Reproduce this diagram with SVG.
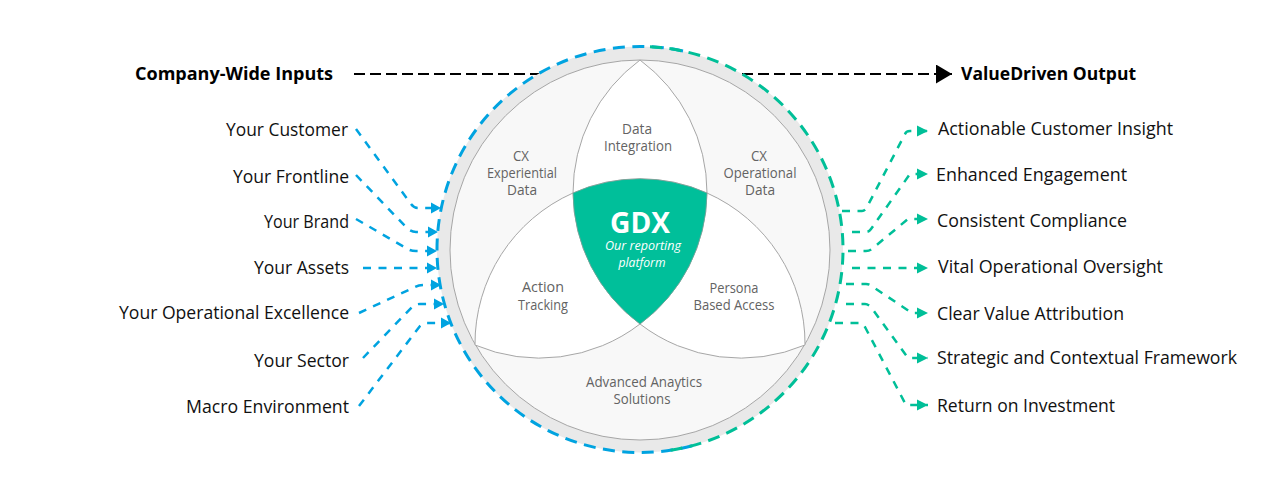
<svg xmlns="http://www.w3.org/2000/svg" width="1280" height="500" viewBox="0 0 1280 500">
<style>
text{font-family:"Open Sans","Noto Sans","Liberation Sans",sans-serif}
.lb{font-size:18px;fill:#111}
.hd{font-size:18px;font-weight:700;fill:#000}
.tg{font-size:14px;fill:#636363;text-anchor:middle}
.pt{fill:#fff;stroke:#a6a6a6;stroke-width:1}
.b{fill:none;stroke:#00a3e0;stroke-width:2.5;stroke-dasharray:8 7.5}
.g{fill:none;stroke:#00bf98;stroke-width:2.5;stroke-dasharray:8 7.5}
.bc{fill:none;stroke:#00a3e0;stroke-width:3;stroke-dasharray:12 7.5}
.gc{fill:none;stroke:#00bf98;stroke-width:3;stroke-dasharray:12 7.5}
.k{fill:none;stroke:#000;stroke-width:2.2;stroke-dasharray:11 5}
</style>
<defs>
<marker id="ab" markerUnits="userSpaceOnUse" markerWidth="11" markerHeight="12" refX="10" refY="6" orient="auto"><path d="M0,0.5L10,6L0,11.5Z" fill="#00a3e0"/></marker>
<marker id="ag" markerUnits="userSpaceOnUse" markerWidth="12" markerHeight="12" refX="11" refY="6" orient="auto"><path d="M0,0.5L11,6L0,11.5Z" fill="#00bf98"/></marker>
<marker id="ak" markerUnits="userSpaceOnUse" markerWidth="17" markerHeight="19" refX="16" refY="9.5" orient="auto"><path d="M0,0L16,9.5L0,19Z" fill="#000"/></marker>
</defs>
<g id="flow-lines">
<path class="k" d="M354,74H540"/>
<path class="k" d="M742,74H952" marker-end="url(#ak)"/>
</g>
<g id="ring"><circle cx="640" cy="249.5" r="203" fill="#e9e9e9"/><circle cx="640" cy="250" r="190" fill="#f8f8f8" stroke="#a6a6a6" stroke-width="1"/></g>
<g id="n-data-integration"><path class="pt" d="M640,60A165,165 0 0 1 707,193A165,165 0 0 0 573,193A165,165 0 0 1 640,60Z"/><text class="tg" x="637" y="134" textLength="30" lengthAdjust="spacingAndGlyphs">Data</text><text class="tg" x="638" y="151" textLength="68" lengthAdjust="spacingAndGlyphs">Integration</text></g>
<g id="n-cx-experiential"><text class="tg" x="521" y="161" textLength="16" lengthAdjust="spacingAndGlyphs">CX</text><text class="tg" x="522" y="178" textLength="70" lengthAdjust="spacingAndGlyphs">Experiential</text><text class="tg" x="522" y="195" textLength="30" lengthAdjust="spacingAndGlyphs">Data</text></g>
<g id="n-cx-operational"><text class="tg" x="759" y="161" textLength="16" lengthAdjust="spacingAndGlyphs">CX</text><text class="tg" x="760" y="178" textLength="73" lengthAdjust="spacingAndGlyphs">Operational</text><text class="tg" x="760" y="195" textLength="30" lengthAdjust="spacingAndGlyphs">Data</text></g>
<g id="n-action"><path class="pt" d="M573,193A165,165 0 0 0 640,324A165,165 0 0 1 475,345A165,165 0 0 1 573,193Z"/><text class="tg" x="543" y="292" textLength="42" lengthAdjust="spacingAndGlyphs">Action</text><text class="tg" x="543" y="310" textLength="50" lengthAdjust="spacingAndGlyphs">Tracking</text></g>
<g id="n-persona"><path class="pt" d="M707,193A165,165 0 0 1 805,345A165,165 0 0 1 640,324A165,165 0 0 0 707,193Z"/><text class="tg" x="734" y="293" textLength="49" lengthAdjust="spacingAndGlyphs">Persona</text><text class="tg" x="734" y="310" textLength="81" lengthAdjust="spacingAndGlyphs">Based Access</text></g>
<g id="n-analytics"><text class="tg" x="644" y="387" textLength="116" lengthAdjust="spacingAndGlyphs">Advanced Anaytics</text><text class="tg" x="642" y="404" textLength="57" lengthAdjust="spacingAndGlyphs">Solutions</text></g>
<g id="n-gdx"><path d="M573,193A165,165 0 0 1 707,193A165,165 0 0 1 640,324A165,165 0 0 1 573,193Z" fill="#00bf9a" stroke="#8a9f99" stroke-width=".6"/>
<text x="640" y="233" text-anchor="middle" font-size="28" font-weight="700" fill="#fff" textLength="60" lengthAdjust="spacingAndGlyphs">GDX</text>
<text x="643" y="250" text-anchor="middle" font-size="13" font-style="italic" fill="#fff" textLength="76" lengthAdjust="spacingAndGlyphs">Our reporting</text>
<text x="642" y="267" text-anchor="middle" font-size="13" font-style="italic" fill="#fff" textLength="47" lengthAdjust="spacingAndGlyphs">platform</text></g>
<g id="connectors">
<path class="bc" d="M683,51A203,203 0 0 0 640,46.5A203,203 0 0 0 640,452.5A203,203 0 0 0 695,445"/>
<path class="gc" d="M650,46.7A203,203 0 0 1 843,249.5A203,203 0 0 1 668,450.6"/>
<path class="b" marker-end="url(#ab)" d="M356,129L411,204Q414,208 418,208H441"/>
<path class="b" marker-end="url(#ab)" d="M356,175L405,226Q410,232 416,232H438"/>
<path class="b" marker-end="url(#ab)" d="M356,219L406,248Q410,251 416,251H437"/>
<path class="b" marker-end="url(#ab)" d="M363,268H437"/>
<path class="b" marker-end="url(#ab)" d="M359,313L415,287Q419,285 424,285H441"/>
<path class="b" marker-end="url(#ab)" d="M363,358L412,307Q415,304 420,304H444"/>
<path class="b" marker-end="url(#ab)" d="M359,406L420,326Q423,323 427,323H451"/>
<path class="g" marker-end="url(#ag)" d="M842,211H862Q865,211 867,207L905,134Q906,131 910,131H928"/>
<path class="g" marker-end="url(#ag)" d="M852,232H866Q869,232 871,229L910,174H928"/>
<path class="g" marker-end="url(#ag)" d="M848,251H866Q870,251 873,248L908,219H928"/>
<path class="g" marker-end="url(#ag)" d="M852,268H928"/>
<path class="g" marker-end="url(#ag)" d="M846,284H866Q870,284 873,287L912,313H928"/>
<path class="g" marker-end="url(#ag)" d="M846,304H865Q868,304 871,307L908,358H928"/>
<path class="g" marker-end="url(#ag)" d="M835,323H860Q863,323 865,327L906,405H928"/>
</g>
<g id="n-heading-in"><text class="hd" x="135" y="80" textLength="198" lengthAdjust="spacingAndGlyphs">Company-Wide Inputs</text></g>
<g id="n-heading-out"><text class="hd" x="961" y="80" textLength="175" lengthAdjust="spacingAndGlyphs">ValueDriven Output</text></g>
<g id="n-inputs" text-anchor="end">
<text class="lb" x="348" y="136" textLength="122" lengthAdjust="spacingAndGlyphs">Your Customer</text>
<text class="lb" x="349" y="183" textLength="116" lengthAdjust="spacingAndGlyphs">Your Frontline</text>
<text class="lb" x="349" y="228" textLength="85" lengthAdjust="spacingAndGlyphs">Your Brand</text>
<text class="lb" x="349" y="274" textLength="95" lengthAdjust="spacingAndGlyphs">Your Assets</text>
<text class="lb" x="349" y="319" textLength="230" lengthAdjust="spacingAndGlyphs">Your Operational Excellence</text>
<text class="lb" x="349" y="367" textLength="95" lengthAdjust="spacingAndGlyphs">Your Sector</text>
<text class="lb" x="349" y="413" textLength="163" lengthAdjust="spacingAndGlyphs">Macro Environment</text>
</g>
<g id="n-outputs">
<text class="lb" x="938" y="135" textLength="235" lengthAdjust="spacingAndGlyphs">Actionable Customer Insight</text>
<text class="lb" x="936" y="181" textLength="191" lengthAdjust="spacingAndGlyphs">Enhanced Engagement</text>
<text class="lb" x="937" y="227" textLength="190" lengthAdjust="spacingAndGlyphs">Consistent Compliance</text>
<text class="lb" x="938" y="273" textLength="225" lengthAdjust="spacingAndGlyphs">Vital Operational Oversight</text>
<text class="lb" x="937" y="320" textLength="187" lengthAdjust="spacingAndGlyphs">Clear Value Attribution</text>
<text class="lb" x="937" y="364" textLength="300" lengthAdjust="spacingAndGlyphs">Strategic and Contextual Framework</text>
<text class="lb" x="937" y="412" textLength="178" lengthAdjust="spacingAndGlyphs">Return on Investment</text>
</g>
</svg>
